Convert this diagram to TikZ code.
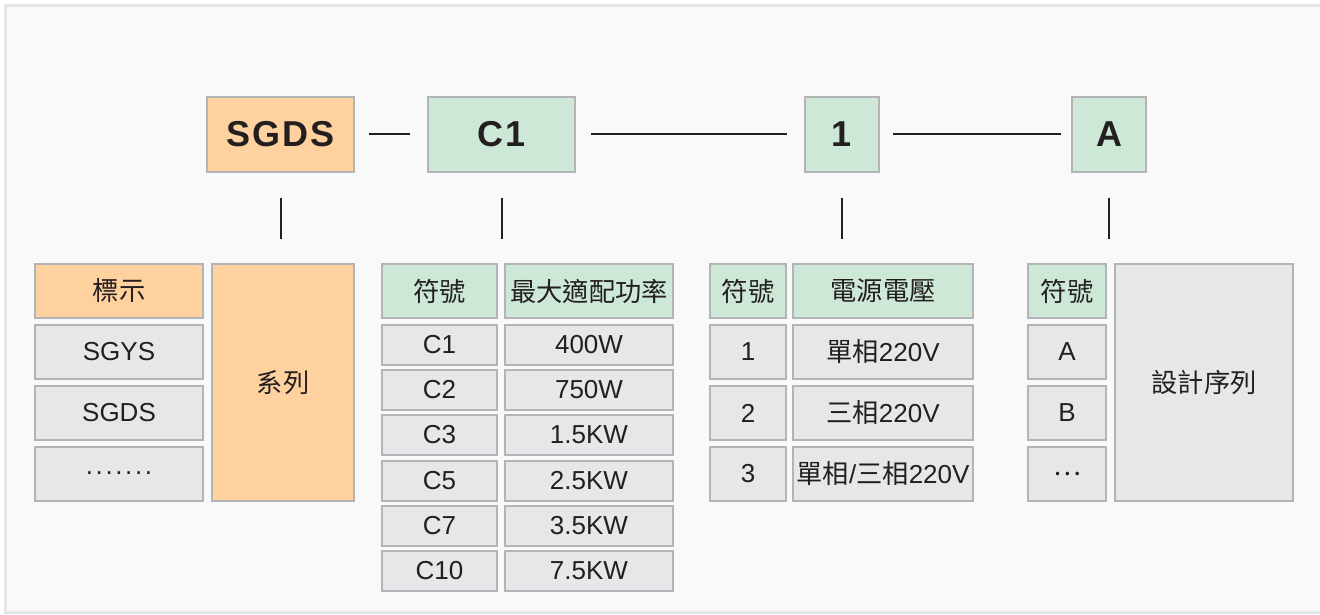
\documentclass[tikz,border=0pt]{standalone}
\usepackage{fontspec}
\setmainfont{Liberation Sans}
\newfontfamily\cjk[Scale=1.01]{Noto Sans CJK TC}
\definecolor{frameg}{HTML}{E6E6E6}
\definecolor{bgc}{HTML}{F9F9F9}
\definecolor{orangec}{HTML}{FED19E}
\definecolor{greenc}{HTML}{CDE8D6}
\definecolor{grayc}{HTML}{E6E7E9}
\definecolor{edgec}{HTML}{B2B4B7}
\definecolor{txt}{HTML}{231F20}
\tikzset{
  cellbox/.style={draw=edgec, line width=1.6pt, inner sep=0pt, text=txt, font=\fontsize{26}{29}\selectfont},
  topbox/.style={cellbox, font=\fontsize{36}{40}\selectfont\bfseries\addfontfeature{LetterSpace=6}},
  link/.style={draw=txt, line width=2pt},
}
\newcommand\cell[8][cellbox]{\node[#1, fill=#7, minimum width={#5-#3}, minimum height={#6-#4}] (#2) at ({(#3+#5)/2},{(#4+#6)/2}) {#8};}
\newcommand\dd{.\hspace{0.1em}}
\begin{document}
\begin{tikzpicture}[x=1pt,y=-1pt]
\useasboundingbox (0,0) rectangle (1320,615);
\begin{scope}
\clip (0,0) rectangle (1320,615);
\filldraw[fill=bgc, draw=frameg, line width=3pt] (5.5,5.5) rectangle (1340,612.5);
\end{scope}
% top boxes
\cell[topbox]{t1}{207}{97}{354}{172}{orangec}{SGDS}
\cell[topbox]{t2}{428}{97}{575}{172}{greenc}{C1}
\cell[topbox]{t3}{805}{97}{879}{172}{greenc}{1}
\cell[topbox]{t4}{1072}{97}{1146}{172}{greenc}{A}
\draw[link] ([xshift=14pt]t1.east) -- ([xshift=-17pt]t2.west);
\draw[link] ([xshift=15pt]t2.east) -- ([xshift=-17pt]t3.west);
\draw[link] ([xshift=13pt]t3.east) -- ([xshift=-10pt]t4.west);
% table 1
\cell{a0}{35}{264}{203}{318}{orangec}{\cjk 標示}
\cell{a1}{35}{325}{203}{379}{grayc}{SGYS}
\cell{a2}{35}{386}{203}{440}{grayc}{SGDS}
\cell{a3}{35}{447}{203}{501}{grayc}{\smash{\dd\dd\dd\dd\dd\dd.}}
\cell{as}{212}{264}{354}{501}{orangec}{\cjk 系列}
% table 2
\cell{b0}{382}{264}{497}{318}{greenc}{\cjk 符號}
\cell{c0}{505}{264}{673}{318}{greenc}{\cjk 最大適配功率}
\cell{b1}{382}{325}{497}{365}{grayc}{C1}
\cell{c1}{505}{325}{673}{365}{grayc}{400W}
\cell{b2}{382}{370}{497}{410}{grayc}{C2}
\cell{c2}{505}{370}{673}{410}{grayc}{750W}
\cell{b3}{382}{415}{497}{455}{grayc}{C3}
\cell{c3}{505}{415}{673}{455}{grayc}{1.5KW}
\cell{b4}{382}{461}{497}{501}{grayc}{C5}
\cell{c4}{505}{461}{673}{501}{grayc}{2.5KW}
\cell{b5}{382}{506}{497}{546}{grayc}{C7}
\cell{c5}{505}{506}{673}{546}{grayc}{3.5KW}
\cell{b6}{382}{551}{497}{591}{grayc}{C10}
\cell{c6}{505}{551}{673}{591}{grayc}{7.5KW}
% table 3
\cell{d0}{710}{264}{786}{318}{greenc}{\cjk 符號}
\cell{e0}{793}{264}{973}{318}{greenc}{\cjk 電源電壓}
\cell{d1}{710}{325}{786}{379}{grayc}{1}
\cell{e1}{793}{325}{973}{379}{grayc}{{\cjk 單相}220V}
\cell{d2}{710}{386}{786}{440}{grayc}{2}
\cell{e2}{793}{386}{973}{440}{grayc}{{\cjk 三相}220V}
\cell{d3}{710}{447}{786}{501}{grayc}{3}
\cell{e3}{793}{447}{973}{501}{grayc}{{\cjk 單相}/{\cjk 三相}220V}
% table 4
\cell{f0}{1028}{264}{1106}{318}{greenc}{\cjk 符號}
\cell{f1}{1028}{325}{1106}{379}{grayc}{A}
\cell{f2}{1028}{386}{1106}{440}{grayc}{B}
\cell{f3}{1028}{447}{1106}{501}{grayc}{\cjk …}
\cell{fs}{1115}{264}{1293}{501}{grayc}{\cjk 設計序列}
% vertical ticks
\draw[link] ([yshift=-25pt]t1.south) -- ([yshift=-66pt]t1.south);
\draw[link] ([yshift=-25pt]t2.south) -- ([yshift=-66pt]t2.south);
\draw[link] ([yshift=-25pt]t3.south) -- ([yshift=-66pt]t3.south);
\draw[link] ([yshift=-25pt]t4.south) -- ([yshift=-66pt]t4.south);
\end{tikzpicture}
\end{document}
